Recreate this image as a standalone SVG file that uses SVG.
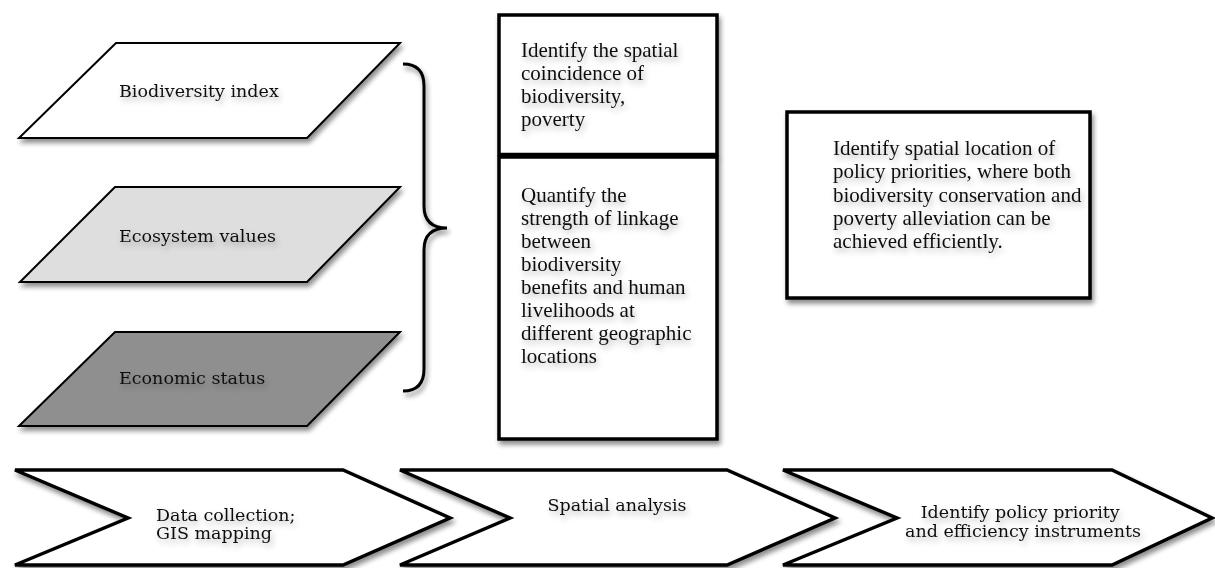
<svg xmlns="http://www.w3.org/2000/svg" width="1215" height="568" viewBox="0 0 1215 568">
  <defs>
    <!-- soft drop shadow under shapes -->
    <filter id="shadow" x="-10%" y="-10%" width="125%" height="135%">
      <feGaussianBlur in="SourceAlpha" stdDeviation="2.5"/>
      <feOffset dx="2" dy="4" result="b"/>
      <feComponentTransfer in="b" result="s"><feFuncA type="linear" slope="0.45"/></feComponentTransfer>
      <feMerge><feMergeNode in="s"/><feMergeNode in="SourceGraphic"/></feMerge>
    </filter>
    <!-- hazy shadow behind labels -->
    <filter id="tshadow" x="-10%" y="-30%" width="125%" height="180%">
      <feGaussianBlur in="SourceAlpha" stdDeviation="3"/>
      <feOffset dx="2" dy="4" result="b"/>
      <feComponentTransfer in="b" result="s"><feFuncA type="linear" slope="0.3"/></feComponentTransfer>
      <feMerge><feMergeNode in="s"/><feMergeNode in="SourceGraphic"/></feMerge>
    </filter>
  </defs>
  <style>
    .layer { stroke: #000; stroke-width: 2; stroke-linejoin: miter; filter: url(#shadow); }
    .box { fill: #fff; stroke: #000; stroke-width: 3.5; filter: url(#shadow); }
    .chev { fill: #fff; stroke: #000; stroke-width: 3.5; stroke-linejoin: miter; filter: url(#shadow); }
    .cam { font-family: "DejaVu Serif", "Liberation Serif", serif; font-size: 17.5px; fill: #111; filter: url(#tshadow); }
    .tim { font-family: "Liberation Serif", "Times New Roman", serif; font-size: 21px; fill: #111; filter: url(#tshadow); }
    .mid { text-anchor: middle; }
  </style>

  <rect width="1215" height="568" fill="#fff"/>

  <!-- data layers -->
  <g id="layer-biodiversity">
    <polygon class="layer" fill="#ffffff" points="116,43 400,43 307,138 19,138"/>
    <text class="cam" x="119" y="97">Biodiversity index</text>
  </g>
  <g id="layer-ecosystem">
    <polygon class="layer" fill="#dedede" points="115,187 400,187 307,282 20,282"/>
    <text class="cam" x="119" y="242">Ecosystem values</text>
  </g>
  <g id="layer-economic">
    <polygon class="layer" fill="#8f8f8f" points="115,332 400,332 307,426 19,426"/>
    <text class="cam" x="119" y="384">Economic status</text>
  </g>

  <!-- brace joining the layers -->
  <g id="connectors">
    <path d="M403,64 Q424,64 424,86 L424,206 Q424,228 447,228 Q424,228 424,250 L424,369 Q424,391 403,391"
          fill="none" stroke="#000" stroke-width="3" filter="url(#shadow)"/>
  </g>

  <!-- spatial analysis boxes -->
  <g id="box-coincidence">
    <rect class="box" x="499" y="15" width="218" height="139.5"/>
    <text class="tim">
      <tspan x="521" y="57">Identify the spatial</tspan>
      <tspan x="521" y="80">coincidence of</tspan>
      <tspan x="521" y="103">biodiversity,</tspan>
      <tspan x="521" y="126">poverty</tspan>
    </text>
  </g>
  <g id="box-linkage">
    <rect class="box" x="499" y="157" width="218" height="282"/>
    <text class="tim">
      <tspan x="521" y="202">Quantify the</tspan>
      <tspan x="521" y="225">strength of linkage</tspan>
      <tspan x="521" y="248">between</tspan>
      <tspan x="521" y="271">biodiversity</tspan>
      <tspan x="521" y="294">benefits and human</tspan>
      <tspan x="521" y="317">livelihoods at</tspan>
      <tspan x="521" y="340">different geographic</tspan>
      <tspan x="521" y="363">locations</tspan>
    </text>
  </g>

  <!-- policy priorities box -->
  <g id="box-priorities">
    <rect class="box" x="787" y="112" width="303" height="186"/>
    <text class="tim">
      <tspan x="833" y="155">Identify spatial location of</tspan>
      <tspan x="833" y="178.3">policy priorities, where both</tspan>
      <tspan x="833" y="201.6">biodiversity conservation and</tspan>
      <tspan x="833" y="225">poverty alleviation can be</tspan>
      <tspan x="833" y="248.3">achieved efficiently.</tspan>
    </text>
  </g>

  <!-- process stages -->
  <g id="stage-data">
    <polygon class="chev" points="15,470 343,470 450,518 343,565 15,565 128,518"/>
    <text class="cam">
      <tspan x="156" y="521">Data collection;</tspan>
      <tspan x="156" y="539">GIS mapping</tspan>
    </text>
  </g>
  <g id="stage-analysis">
    <polygon class="chev" points="400,470 727,470 835,518 727,565 400,565 510,518"/>
    <text class="cam mid" x="617" y="511">Spatial analysis</text>
  </g>
  <g id="stage-policy">
    <polygon class="chev" points="783,470 1112,470 1212,518 1112,565 783,565 897,518"/>
    <text class="cam mid">
      <tspan x="1023" y="518">Identify policy priority</tspan>
      <tspan x="1023" y="537">and efficiency instruments</tspan>
    </text>
  </g>
</svg>
